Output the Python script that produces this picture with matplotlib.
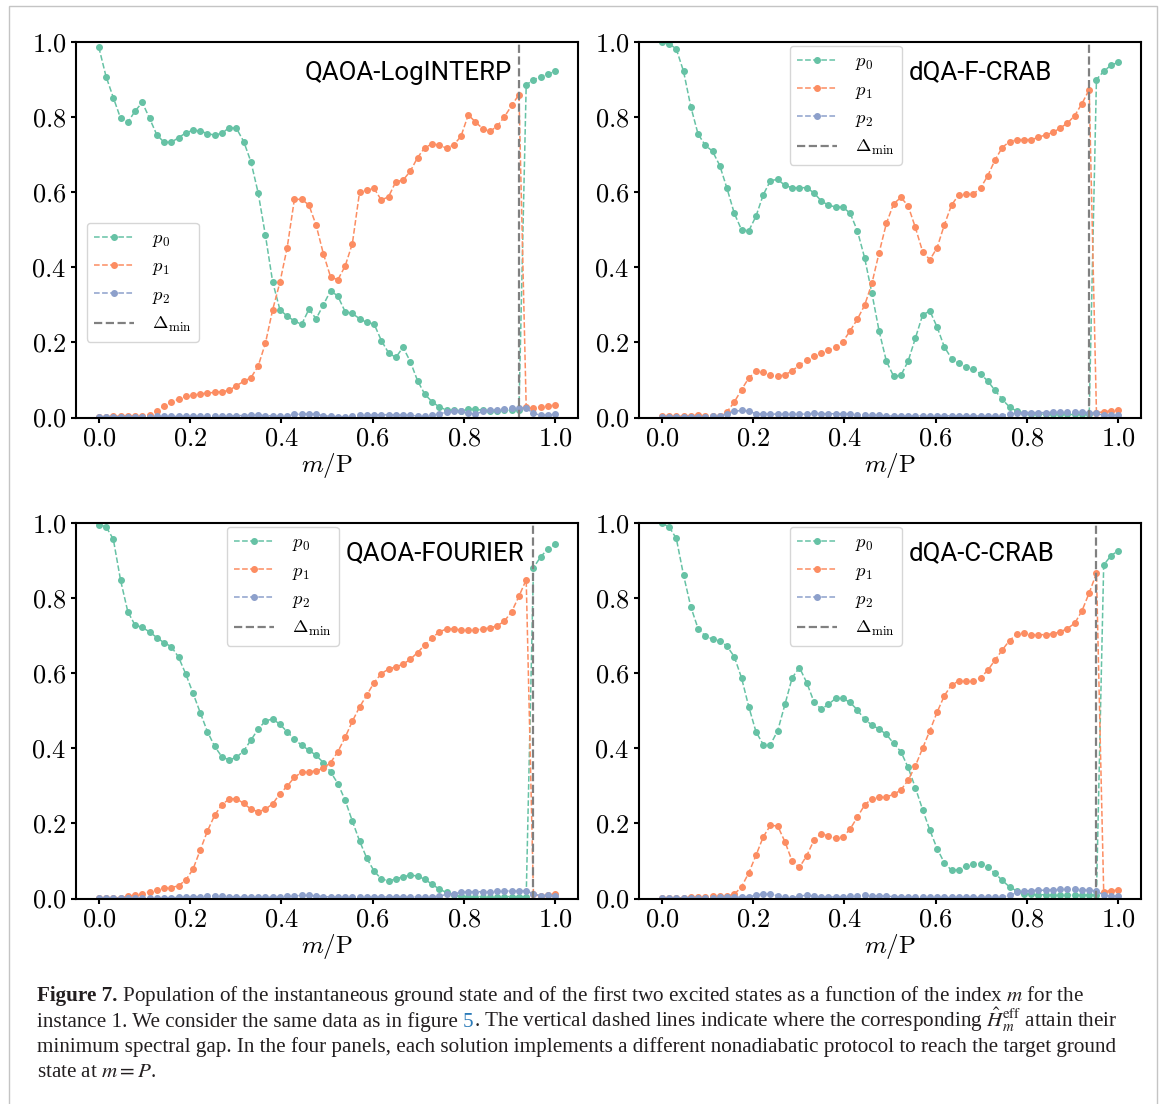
import numpy as np
import matplotlib
matplotlib.use('Agg')
import matplotlib.pyplot as plt
from matplotlib.patches import Rectangle

# index m = 0..P
P = 63
m = np.arange(P + 1)

names = ["QAOA-LogINTERP", "dQA-F-CRAB", "QAOA-FOURIER", "dQA-C-CRAB"]
gap_m = [58, 59, 60, 60]

# QAOA-LogINTERP
p0_a = [0.986, 0.908, 0.852, 0.797, 0.786, 0.816, 0.839, 0.797, 0.753, 0.733,
        0.733, 0.745, 0.758, 0.765, 0.763, 0.756, 0.752, 0.757, 0.772, 0.770,
        0.735, 0.681, 0.598, 0.485, 0.361, 0.287, 0.270, 0.257, 0.248, 0.288,
        0.263, 0.300, 0.338, 0.323, 0.282, 0.277, 0.263, 0.253, 0.249, 0.205,
        0.172, 0.160, 0.187, 0.149, 0.098, 0.062, 0.042, 0.028, 0.020, 0.019,
        0.017, 0.022, 0.022, 0.019, 0.017, 0.017, 0.019, 0.020, 0.020, 0.886,
        0.899, 0.908, 0.915, 0.922]
p1_a = [0.002, 0.002, 0.003, 0.004, 0.004, 0.004, 0.004, 0.007, 0.016, 0.031,
        0.040, 0.049, 0.056, 0.060, 0.063, 0.065, 0.067, 0.069, 0.072, 0.085,
        0.096, 0.106, 0.137, 0.198, 0.287, 0.360, 0.452, 0.581, 0.581, 0.566,
        0.512, 0.436, 0.374, 0.367, 0.403, 0.463, 0.601, 0.605, 0.610, 0.579,
        0.588, 0.628, 0.632, 0.656, 0.692, 0.719, 0.728, 0.726, 0.717, 0.726,
        0.749, 0.806, 0.787, 0.769, 0.762, 0.776, 0.801, 0.831, 0.860, 0.027,
        0.024, 0.028, 0.031, 0.034]
p2_a = [0.002, 0.002, 0.002, 0.002, 0.002, 0.002, 0.002, 0.002, 0.003, 0.003,
        0.003, 0.003, 0.003, 0.003, 0.003, 0.003, 0.004, 0.004, 0.004, 0.005,
        0.005, 0.006, 0.006, 0.005, 0.004, 0.004, 0.005, 0.008, 0.009, 0.010,
        0.008, 0.005, 0.003, 0.002, 0.002, 0.003, 0.006, 0.007, 0.007, 0.007,
        0.007, 0.007, 0.006, 0.006, 0.004, 0.003, 0.006, 0.010, 0.014, 0.016,
        0.016, 0.012, 0.009, 0.016, 0.019, 0.021, 0.023, 0.024, 0.026, 0.025,
        0.011, 0.006, 0.007, 0.008]

# dQA-F-CRAB
p0_b = [1.000, 0.996, 0.981, 0.922, 0.828, 0.755, 0.725, 0.709, 0.671, 0.610,
        0.544, 0.500, 0.497, 0.536, 0.593, 0.631, 0.634, 0.618, 0.612, 0.612,
        0.612, 0.598, 0.577, 0.565, 0.561, 0.560, 0.544, 0.497, 0.425, 0.331,
        0.230, 0.150, 0.110, 0.112, 0.150, 0.211, 0.273, 0.284, 0.241, 0.188,
        0.157, 0.144, 0.135, 0.129, 0.116, 0.097, 0.072, 0.048, 0.028, 0.017,
        0.011, 0.010, 0.009, 0.009, 0.008, 0.008, 0.008, 0.008, 0.008, 0.008,
        0.900, 0.922, 0.938, 0.946]
p1_b = [0.003, 0.003, 0.003, 0.004, 0.005, 0.006, 0.005, 0.005, 0.004, 0.015,
        0.041, 0.074, 0.105, 0.123, 0.121, 0.112, 0.110, 0.114, 0.124, 0.140,
        0.152, 0.163, 0.172, 0.179, 0.187, 0.202, 0.231, 0.262, 0.299, 0.357,
        0.439, 0.517, 0.569, 0.586, 0.564, 0.506, 0.442, 0.420, 0.452, 0.513,
        0.566, 0.593, 0.595, 0.595, 0.611, 0.644, 0.686, 0.719, 0.735, 0.740,
        0.740, 0.740, 0.746, 0.753, 0.759, 0.771, 0.784, 0.804, 0.836, 0.873,
        0.013, 0.015, 0.018, 0.020]
p2_b = [0.001, 0.001, 0.001, 0.002, 0.002, 0.002, 0.002, 0.003, 0.004, 0.010,
        0.016, 0.019, 0.017, 0.010, 0.009, 0.009, 0.009, 0.009, 0.009, 0.009,
        0.009, 0.011, 0.010, 0.010, 0.010, 0.010, 0.010, 0.007, 0.007, 0.006,
        0.006, 0.004, 0.004, 0.004, 0.004, 0.004, 0.005, 0.005, 0.005, 0.005,
        0.004, 0.004, 0.004, 0.004, 0.004, 0.004, 0.004, 0.005, 0.009, 0.012,
        0.013, 0.013, 0.013, 0.013, 0.014, 0.014, 0.014, 0.014, 0.014, 0.013,
        0.011, 0.006, 0.006, 0.006]

# QAOA-FOURIER
p0_c = [0.996, 0.990, 0.957, 0.848, 0.764, 0.728, 0.722, 0.710, 0.695, 0.681,
        0.671, 0.643, 0.598, 0.547, 0.495, 0.444, 0.405, 0.377, 0.369, 0.376,
        0.393, 0.422, 0.451, 0.473, 0.478, 0.464, 0.444, 0.424, 0.408, 0.395,
        0.381, 0.362, 0.337, 0.306, 0.262, 0.206, 0.153, 0.107, 0.073, 0.052,
        0.047, 0.052, 0.058, 0.062, 0.060, 0.051, 0.038, 0.025, 0.016, 0.008,
        0.006, 0.005, 0.005, 0.005, 0.005, 0.005, 0.005, 0.005, 0.005, 0.005,
        0.881, 0.910, 0.931, 0.943]
p1_c = [0.002, 0.002, 0.002, 0.002, 0.006, 0.009, 0.012, 0.018, 0.023, 0.027,
        0.029, 0.034, 0.049, 0.078, 0.129, 0.180, 0.222, 0.250, 0.265, 0.266,
        0.253, 0.238, 0.231, 0.238, 0.252, 0.279, 0.299, 0.323, 0.336, 0.337,
        0.340, 0.347, 0.362, 0.391, 0.429, 0.472, 0.510, 0.542, 0.575, 0.599,
        0.611, 0.617, 0.624, 0.637, 0.655, 0.675, 0.694, 0.710, 0.718, 0.718,
        0.715, 0.714, 0.715, 0.718, 0.721, 0.726, 0.739, 0.764, 0.805, 0.849,
        0.011, 0.006, 0.009, 0.013]
p2_c = [0.001, 0.001, 0.001, 0.001, 0.001, 0.001, 0.001, 0.001, 0.001, 0.002,
        0.002, 0.003, 0.003, 0.004, 0.005, 0.006, 0.007, 0.006, 0.005, 0.004,
        0.003, 0.003, 0.003, 0.003, 0.004, 0.005, 0.006, 0.007, 0.008, 0.008,
        0.007, 0.005, 0.004, 0.004, 0.004, 0.004, 0.004, 0.004, 0.004, 0.004,
        0.004, 0.004, 0.004, 0.004, 0.004, 0.004, 0.005, 0.006, 0.011, 0.013,
        0.016, 0.018, 0.018, 0.018, 0.018, 0.019, 0.020, 0.020, 0.020, 0.020,
        0.013, 0.007, 0.009, 0.007]

# dQA-C-CRAB
p0_d = [0.999, 0.990, 0.959, 0.861, 0.777, 0.719, 0.699, 0.691, 0.686, 0.672,
        0.644, 0.588, 0.511, 0.444, 0.410, 0.410, 0.447, 0.517, 0.588, 0.615,
        0.575, 0.524, 0.504, 0.517, 0.533, 0.533, 0.522, 0.502, 0.477, 0.462,
        0.451, 0.437, 0.413, 0.391, 0.349, 0.295, 0.237, 0.182, 0.133, 0.095,
        0.075, 0.077, 0.087, 0.092, 0.093, 0.084, 0.067, 0.048, 0.031, 0.020,
        0.013, 0.011, 0.010, 0.010, 0.009, 0.009, 0.009, 0.009, 0.009, 0.009,
        0.009, 0.888, 0.913, 0.926]
p1_d = [0.002, 0.002, 0.002, 0.002, 0.003, 0.004, 0.005, 0.006, 0.006, 0.007,
        0.011, 0.031, 0.068, 0.115, 0.164, 0.195, 0.193, 0.151, 0.099, 0.083,
        0.114, 0.155, 0.173, 0.167, 0.160, 0.164, 0.185, 0.217, 0.249, 0.266,
        0.269, 0.271, 0.277, 0.289, 0.315, 0.353, 0.400, 0.447, 0.496, 0.540,
        0.569, 0.579, 0.578, 0.578, 0.588, 0.608, 0.635, 0.662, 0.687, 0.704,
        0.708, 0.703, 0.702, 0.703, 0.705, 0.710, 0.719, 0.733, 0.766, 0.814,
        0.866, 0.018, 0.021, 0.022]
p2_d = [0.001, 0.001, 0.001, 0.001, 0.002, 0.002, 0.002, 0.002, 0.003, 0.003,
        0.003, 0.004, 0.004, 0.009, 0.012, 0.012, 0.007, 0.003, 0.002, 0.006,
        0.009, 0.006, 0.004, 0.004, 0.004, 0.004, 0.006, 0.007, 0.008, 0.007,
        0.007, 0.006, 0.005, 0.004, 0.004, 0.004, 0.003, 0.003, 0.003, 0.003,
        0.003, 0.003, 0.003, 0.003, 0.003, 0.003, 0.003, 0.004, 0.008, 0.016,
        0.020, 0.021, 0.022, 0.022, 0.023, 0.024, 0.024, 0.024, 0.023, 0.022,
        0.020, 0.009, 0.006, 0.006]

series = [(p0_a, p1_a, p2_a), (p0_b, p1_b, p2_b),
          (p0_c, p1_c, p2_c), (p0_d, p1_d, p2_d)]

colors = ['#66c2a5', '#fc8d62', '#8da0cb']
labels = [r'$p_0$', r'$p_1$', r'$p_2$']

plt.rcParams['font.family'] = ['cmr10', 'DejaVu Sans']
plt.rcParams['mathtext.fontset'] = 'cm'
plt.rcParams['axes.formatter.use_mathtext'] = True
plt.rcParams['axes.linewidth'] = 1.5
plt.rcParams['xtick.major.width'] = 1.5
plt.rcParams['ytick.major.width'] = 1.5

W, H = 1166, 1104
fig = plt.figure(figsize=(W / 100, H / 100), dpi=100)

# frame around the whole figure
fig.patches.append(Rectangle((9 / W, -0.01), 1148 / W, (H - 6) / H + 0.01,
                             transform=fig.transFigure, fill=False,
                             edgecolor='#c4c4c4', lw=1))

# axes boxes in pixels: left, top
boxes = [(76, 42), (639, 42), (76, 523), (639, 523)]
aw, ah = 502, 375.5
name_x = [0.456, 0.537, 0.537, 0.537]
leg_pos = [(0.021, 0.519), (0.300, 0.99), (0.300, 0.99), (0.300, 0.99)]

x = m / P
for k in range(4):
    l, t = boxes[k]
    ax = fig.add_axes([l / W, 1 - (t + ah) / H, aw / W, ah / H])
    for j in range(3):
        ax.plot(x, series[k][j], '--', marker='o', ms=4, lw=1.1,
                color=colors[j], label=labels[j])
    ax.axvline(gap_m[k] / P, color='grey', ls='--', lw=1.6,
               label=r'$\Delta_{\min}$')
    ax.set_xlim(-0.05, 1.05)
    ax.set_ylim(0, 1)
    ax.set_xticks([0, 0.2, 0.4, 0.6, 0.8, 1.0])
    ax.set_yticks([0, 0.2, 0.4, 0.6, 0.8, 1.0])
    ax.tick_params(labelsize=19)
    ax.set_xlabel(r'$m/\mathrm{P}$', fontsize=18, labelpad=0)
    ax.text(name_x[k], 0.90, names[k], transform=ax.transAxes,
            family='Roboto', fontsize=18.6, va='baseline', ha='left')
    ax.legend(loc='upper left', bbox_to_anchor=leg_pos[k], borderaxespad=0,
              fontsize=13.4, handlelength=2.15, handletextpad=0.95,
              labelspacing=0.5)

# caption
cap_size = 15.2
ink = '#231f20'
renderer = fig.canvas.get_renderer()


def caption_line(y_px, pieces):
    xx = 37 / W
    for s, kw in pieces:
        txt = fig.text(xx, 1 - y_px / H, s, fontsize=cap_size,
                       family='Liberation Serif', math_fontfamily='stix',
                       va='baseline', ha='left', color=kw.get('color', ink),
                       fontweight=kw.get('weight', 'normal'))
        xx += txt.get_window_extent(renderer).width / W


caption_line(1001, [("Figure 7.", {'weight': 'bold'}),
                    (r" Population of the instantaneous ground state and of the first two excited states as a function of the index $m$ for the", {})])
caption_line(1027, [("instance 1. We consider the same data as in figure ", {}),
                    ("5", {'color': '#2b7bb9'}),
                    (r". The vertical dashed lines indicate where the corresponding $\hat{H}_m^{\mathrm{eff}}$ attain their", {})])
caption_line(1052, [("minimum spectral gap. In the four panels, each solution implements a different nonadiabatic protocol to reach the target ground", {})])
caption_line(1077, [(r"state at $m = P$.", {})])

fig.savefig('out.png', dpi=100)
